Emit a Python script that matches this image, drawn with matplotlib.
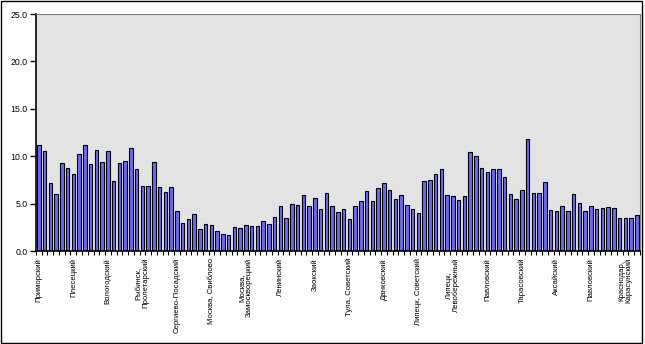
import numpy as np
import matplotlib
matplotlib.use('Agg')
import matplotlib.pyplot as plt
from matplotlib.patches import Rectangle

plt.rcParams['font.family'] = ['Liberation Sans', 'DejaVu Sans']

# values per district
values = [11.2, 10.5, 7.2, 6.0, 9.3, 8.8, 8.1, 10.2, 11.2, 9.2,
          10.7, 9.4, 10.5, 7.4, 9.3, 9.5, 10.9, 8.7, 6.9, 6.9,
          9.4, 6.8, 6.2, 6.7, 4.2, 3.0, 3.4, 3.9, 2.3, 2.9,
          2.7, 2.1, 1.8, 1.7, 2.5, 2.4, 2.7, 2.6, 2.6, 3.2,
          2.9, 3.6, 4.7, 3.5, 5.0, 4.9, 5.9, 4.7, 5.6, 4.4,
          6.1, 4.7, 4.1, 4.4, 3.4, 4.8, 5.3, 6.3, 5.3, 6.6,
          7.2, 6.4, 5.5, 5.9, 4.9, 4.4, 4.0, 7.4, 7.5, 8.1,
          8.7, 5.9, 5.8, 5.4, 5.8, 10.4, 10.0, 8.8, 8.3, 8.7,
          8.7, 7.8, 6.0, 5.5, 6.4, 11.8, 6.1, 6.1, 7.3, 4.3,
          4.2, 4.7, 4.2, 6.0, 5.1, 4.2, 4.7, 4.4, 4.5, 4.6,
          4.5, 3.5, 3.5, 3.5, 3.8]

# labelled categories (every sixth bar)
label_pos = [0, 6, 12, 18, 24, 30, 36, 42, 48, 54, 60, 66, 72, 78, 84, 90, 96, 102]
label_txt = ['Приморский', 'Плесецкий', 'Вологодский', 'Рыбинск,\nПролетарский',
             'Сергиево-Посадский', 'Москва, Свиблово', 'Москва,\nЗамоскворецкий',
             'Ленинский', 'Заокский', 'Тула, Советский', 'Данковский',
             'Липецк, Советский', 'Липецк,\nЛевобережный', 'Павловский',
             'Тарасовский', 'Аксайский', 'Павловский', 'Краснодар,\nКарасунский']

y_ticks = [0, 5, 10, 15, 20, 25]

fig = plt.figure(figsize=(6.45, 3.44), dpi=100)
fig.patch.set_facecolor('white')
fig.patches.append(Rectangle((0.002, 0.003), 0.994, 0.994, transform=fig.transFigure,
                             fill=False, edgecolor='black', linewidth=1.0))

ax = fig.add_axes([0.0558, 0.2703, 0.9362, 0.689])
ax.set_facecolor('#e3e3e3')

x = np.arange(len(values))
ax.bar(x, values, width=0.6, color='#6a6af2', edgecolor='black', linewidth=0.8)

ax.set_xlim(-0.5, len(values) - 0.5)
ax.set_ylim(0, 25)
ax.set_yticks(y_ticks)
ax.set_yticklabels(['%.1f' % v for v in y_ticks], fontsize=6.3)
ax.tick_params(axis='y', direction='out', length=4, width=1, pad=2)

ax.set_xticks(label_pos)
ax.set_xticklabels(label_txt, rotation=90, fontsize=5.6, ha='center', va='top',
                   multialignment='center', linespacing=1.0)
ax.set_xticks(np.arange(len(values) + 1) - 0.5, minor=True)
ax.tick_params(axis='x', which='major', length=0, pad=5)
ax.tick_params(axis='x', which='minor', direction='out', length=3, width=0.8)

for side in ['top', 'right']:
    ax.spines[side].set_color('#808080')
    ax.spines[side].set_linewidth(0.8)
ax.spines['left'].set_linewidth(1.2)
ax.spines['bottom'].set_linewidth(1.2)

fig.savefig('out.png', dpi=100)
